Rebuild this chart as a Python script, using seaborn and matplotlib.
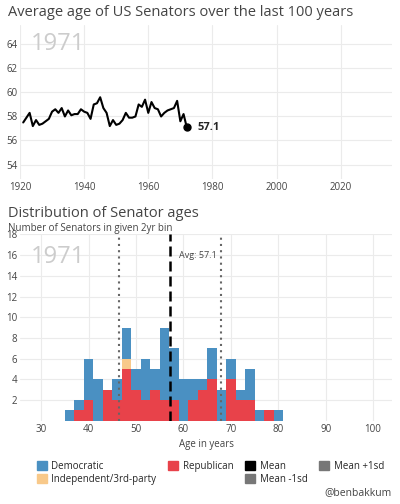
import numpy as np
import pandas as pd
import matplotlib
matplotlib.use("Agg")
import matplotlib.pyplot as plt
import seaborn as sns
from matplotlib.patches import Patch

years = list(range(1921, 1973))
avg_age = [57.5, 57.9, 58.3, 57.2, 57.7, 57.3, 57.4, 57.6, 57.8, 58.4,
           58.6, 58.3, 58.7, 58.0, 58.5, 58.1, 58.2, 58.2, 58.6, 58.4,
           58.3, 57.8, 59.0, 59.1, 59.6, 58.7, 58.3, 57.2, 57.7, 57.3,
           57.4, 57.7, 58.3, 57.9, 57.9, 58.0, 59.0, 58.8, 59.4, 58.3,
           59.2, 58.7, 58.6, 58.0, 58.3, 58.5, 58.6, 58.7, 59.3, 57.6,
           58.2, 57.1]

bin_starts = list(range(35, 81, 2))
totals = [1, 2, 6, 4, 3, 4, 9, 5, 6, 5, 9, 7, 4, 4, 4, 7, 3, 6, 3, 5, 1, 1, 1]
republican = [0, 1, 2, 0, 3, 2, 5, 3, 2, 3, 2, 2, 0, 2, 3, 4, 0, 4, 2, 2, 0, 1, 0]
independent = [0, 0, 0, 0, 0, 0, 1, 0, 0, 0, 0, 0, 0, 0, 0, 0, 0, 0, 0, 0, 0, 0, 0]
democratic = [t - r - i for t, r, i in zip(totals, republican, independent)]
mean_age = 57.1
sd_age = 10.8

colors = {"Democratic": "#4a90c2", "Independent/3rd-party": "#f8c98a", "Republican": "#e8424a"}

rows = []
for b, d, i, r in zip(bin_starts, democratic, independent, republican):
    rows += [(b + 1, "Democratic", d), (b + 1, "Independent/3rd-party", i), (b + 1, "Republican", r)]
df = pd.DataFrame(rows, columns=["age", "party", "count"])

sns.set_theme(style="whitegrid")
plt.rcParams['font.family'] = ['Open Sans', 'DejaVu Sans']
grid_c = "#ebebeb"
fig = plt.figure(figsize=(4, 5.04), dpi=100)
ax1 = fig.add_axes([0.05, 0.645, 0.93, 0.305])
ax2 = fig.add_axes([0.05, 0.165, 0.93, 0.37])

for ax in (ax1, ax2):
    for s in ax.spines.values():
        s.set_visible(False)
    ax.grid(True, color=grid_c, linewidth=0.8)
    ax.tick_params(labelsize=7, colors="#444444", length=0, pad=2)

sns.lineplot(x=years, y=avg_age, ax=ax1, color="black", linewidth=1.5)
ax1.plot([years[-1]], [avg_age[-1]], "o", color="black", markersize=5)
ax1.text(years[-1] + 3.5, avg_age[-1], f"{avg_age[-1]:.1f}", fontsize=8, fontweight="bold", va="center")
ax1.set_xlim(1920, 2036)
ax1.set_ylim(52.8, 65.6)
ax1.set_xticks([1920, 1940, 1960, 1980, 2000, 2020])
ax1.set_yticks([54, 56, 58, 60, 62, 64])
ax1.text(0.03, 0.88, "1971", transform=ax1.transAxes, fontsize=17, color="#cccccc", va="center")
ax1.set_xlabel(""); ax1.set_ylabel("")
fig.text(0.02, 0.975, "Average age of US Senators over the last 100 years", fontsize=10.5, color="#444444", va="center")

sns.histplot(data=df, x="age", hue="party", weights="count", binwidth=2, binrange=(35, 81),
             multiple="stack", hue_order=["Democratic", "Independent/3rd-party", "Republican"],
             palette=colors, alpha=1, edgecolor="none", linewidth=0, ax=ax2, legend=False)
ax2.axvline(mean_age, color="black", linestyle=(0, (4, 2)), linewidth=1.8)
ax2.axvline(mean_age - sd_age, color="#666666", linestyle=(0, (1, 2)), linewidth=1.5)
ax2.axvline(mean_age + sd_age, color="#666666", linestyle=(0, (1, 2)), linewidth=1.5)
ax2.text(mean_age + 2, 16, f"Avg: {mean_age}", fontsize=6.5, color="#444444", va="center")
ax2.set_xlim(25.5, 104)
ax2.set_ylim(0, 18)
ax2.set_xticks(range(30, 101, 10))
ax2.set_yticks(range(2, 19, 2))
ax2.set_ylabel("")
ax2.set_xlabel("Age in years", fontsize=7, color="#444444", labelpad=3)
ax2.text(0.03, 0.88, "1971", transform=ax2.transAxes, fontsize=17, color="#cccccc", va="center")
fig.text(0.02, 0.577, "Distribution of Senator ages", fontsize=10.5, color="#444444", va="center")
fig.text(0.02, 0.547, "Number of Senators in given 2yr bin", fontsize=7, color="#444444", va="center")

blank = Patch(color="none", label="")
handles = [Patch(color=colors["Democratic"], label="Democratic"),
           Patch(color=colors["Independent/3rd-party"], label="Independent/3rd-party"),
           Patch(color=colors["Republican"], label="Republican"), blank,
           Patch(color="black", label="Mean"), Patch(color="#777777", label="Mean -1sd"),
           Patch(color="#777777", label="Mean +1sd"), blank]
fig.legend(handles=handles, labels=[h.get_label() for h in handles], ncol=4,
           loc="upper left", bbox_to_anchor=(0.08, 0.095), frameon=False, fontsize=7,
           handlelength=1.0, handleheight=1.0, handletextpad=0.5, columnspacing=1.2,
           labelspacing=0.2, borderpad=0)
fig.text(0.98, 0.018, "@benbakkum", fontsize=7.5, color="#444444", ha="right")
fig.savefig("out.png", dpi=100)
